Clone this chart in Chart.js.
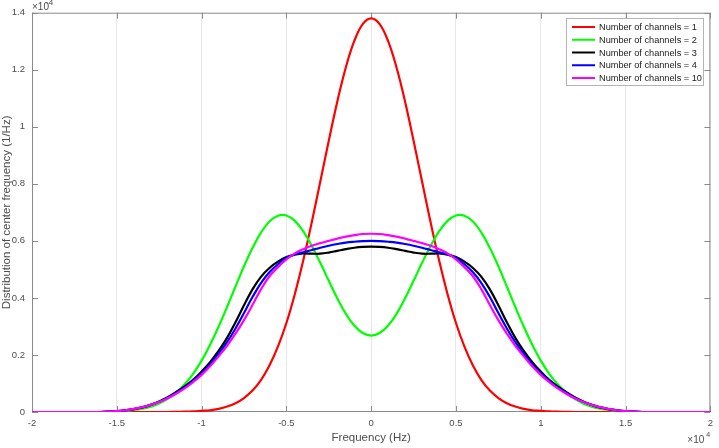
<!DOCTYPE html>
<html>
<head>
<meta charset="utf-8">
<script src="https://cdn.jsdelivr.net/npm/chart.js@4.4.1/dist/chart.umd.min.js"></script>
<style>
  html, body { margin: 0; padding: 0; background: #fff; }
  #wrap { width: 719px; height: 448px; position: relative; }
</style>
</head>
<body>
<div id="wrap"><canvas id="density"></canvas></div>
<script>
// frequency in units of 1e4 Hz, density in units of 1e-4 1/Hz
const freq = [
  -2, -1.95, -1.9, -1.85, -1.8, -1.75, -1.7, -1.65, -1.6, -1.55,
  -1.5, -1.45, -1.4, -1.35, -1.3, -1.25, -1.2, -1.15, -1.1, -1.05,
  -1, -0.95, -0.9, -0.85, -0.8, -0.75, -0.7, -0.65, -0.6, -0.55,
  -0.5, -0.45, -0.4, -0.35, -0.3, -0.25, -0.2, -0.15, -0.1, -0.05,
  0,
  0.05, 0.1, 0.15, 0.2, 0.25, 0.3, 0.35, 0.4, 0.45, 0.5,
  0.55, 0.6, 0.65, 0.7, 0.75, 0.8, 0.85, 0.9, 0.95, 1,
  1.05, 1.1, 1.15, 1.2, 1.25, 1.3, 1.35, 1.4, 1.45, 1.5,
  1.55, 1.6, 1.65, 1.7, 1.75, 1.8, 1.85, 1.9, 1.95, 2
];

const ch1 = [
  0, 0, 0, 0, 0, 0, 0, 0, 0, 0,
  0, 0, 0, 0, 0, 0, 0, 0.0005, 0.001, 0.002,
  0.004, 0.006, 0.011, 0.019, 0.031, 0.049, 0.075, 0.112, 0.163, 0.229,
  0.312, 0.414, 0.533, 0.666, 0.808, 0.951, 1.088, 1.207, 1.30, 1.36,
  1.38,
  1.36, 1.30, 1.207, 1.088, 0.951, 0.808, 0.666, 0.533, 0.414, 0.312,
  0.229, 0.163, 0.112, 0.075, 0.049, 0.031, 0.019, 0.011, 0.006, 0.004,
  0.002, 0.001, 0.0005, 0, 0, 0, 0, 0, 0, 0,
  0, 0, 0, 0, 0, 0, 0, 0, 0, 0
];

const ch2 = [
  0, 0, 0, 0, 0, 0, 0, 0, 0, 0.001,
  0.002, 0.004, 0.007, 0.012, 0.019, 0.030, 0.046, 0.068, 0.097, 0.134,
  0.180, 0.236, 0.299, 0.368, 0.440, 0.511, 0.575, 0.629, 0.668, 0.688,
  0.689, 0.670, 0.633, 0.582, 0.523, 0.460, 0.399, 0.345, 0.303, 0.277,
  0.268,
  0.277, 0.303, 0.345, 0.399, 0.460, 0.523, 0.582, 0.633, 0.670, 0.689,
  0.688, 0.668, 0.629, 0.575, 0.511, 0.440, 0.368, 0.299, 0.236, 0.180,
  0.134, 0.097, 0.068, 0.046, 0.030, 0.019, 0.012, 0.007, 0.004, 0.002,
  0.001, 0, 0, 0, 0, 0, 0, 0, 0, 0
];

const ch3 = [
  0, 0, 0, 0, 0, 0, 0, 0, 0, 0.001,
  0.003, 0.006, 0.010, 0.016, 0.025, 0.037, 0.052, 0.070, 0.090, 0.113,
  0.142, 0.175, 0.214, 0.260, 0.315, 0.374, 0.430, 0.474, 0.505, 0.527,
  0.543, 0.552, 0.556, 0.555, 0.555, 0.559, 0.565, 0.571, 0.576, 0.579,
  0.580,
  0.579, 0.576, 0.571, 0.565, 0.559, 0.555, 0.555, 0.556, 0.552, 0.543,
  0.527, 0.505, 0.474, 0.430, 0.374, 0.315, 0.260, 0.214, 0.175, 0.142,
  0.113, 0.090, 0.070, 0.052, 0.037, 0.025, 0.016, 0.010, 0.006, 0.003,
  0.001, 0, 0, 0, 0, 0, 0, 0, 0, 0
];

const ch4 = [
  0, 0, 0, 0, 0, 0, 0, 0, 0, 0.001,
  0.003, 0.006, 0.010, 0.016, 0.025, 0.036, 0.050, 0.067, 0.086, 0.109,
  0.136, 0.167, 0.204, 0.245, 0.293, 0.347, 0.403, 0.452, 0.490, 0.518,
  0.540, 0.553, 0.560, 0.568, 0.576, 0.583, 0.589, 0.594, 0.597, 0.599,
  0.600,
  0.599, 0.597, 0.594, 0.589, 0.583, 0.576, 0.568, 0.560, 0.553, 0.540,
  0.518, 0.490, 0.452, 0.403, 0.347, 0.293, 0.245, 0.204, 0.167, 0.136,
  0.109, 0.086, 0.067, 0.050, 0.036, 0.025, 0.016, 0.010, 0.006, 0.003,
  0.001, 0, 0, 0, 0, 0, 0, 0, 0, 0
];

const ch10 = [
  0, 0, 0, 0, 0, 0, 0, 0, 0, 0.001,
  0.003, 0.006, 0.011, 0.017, 0.025, 0.035, 0.048, 0.064, 0.083, 0.105,
  0.130, 0.160, 0.195, 0.232, 0.275, 0.322, 0.375, 0.430, 0.476, 0.508,
  0.535, 0.556, 0.571, 0.583, 0.592, 0.600, 0.608, 0.615, 0.620, 0.624,
  0.625,
  0.624, 0.620, 0.615, 0.608, 0.600, 0.592, 0.583, 0.571, 0.556, 0.535,
  0.508, 0.476, 0.430, 0.375, 0.322, 0.275, 0.232, 0.195, 0.160, 0.130,
  0.105, 0.083, 0.064, 0.048, 0.035, 0.025, 0.017, 0.011, 0.006, 0.003,
  0.001, 0, 0, 0, 0, 0, 0, 0, 0, 0
];

const seriesNames = ['Number of channels = 1', 'Number of channels = 2', 'Number of channels = 3',
  'Number of channels = 4', 'Number of channels = 10'];
const seriesValues = [ch1, ch2, ch3, ch4, ch10];
const seriesColors = ['#ff0000', '#00ff00', '#000000', '#0000ff', '#ff00ff'];

const FONT = "'Liberation Sans', Arial, Helvetica, sans-serif";
const axisGrey = '#8a8a8a';
const textGrey = '#4d4d4d';

const fmt = v => String(parseFloat(Number(v).toFixed(2)));

// matlab style box, inward ticks, exponent labels and legend
const matlabAxes = {
  id: 'matlabAxes',
  beforeDatasetsDraw(chart) {
    const ctx = chart.ctx;
    const {left, right, top, bottom} = chart.chartArea;
    const xs = chart.scales.x, ys = chart.scales.y;
    ctx.save();
    ctx.strokeStyle = axisGrey;
    ctx.lineWidth = 1;
    ctx.strokeRect(left + 0.5, top + 0.5, right - left - 1, bottom - top - 1);
    ctx.beginPath();
    xs.ticks.forEach(t => {
      const px = Math.round(xs.getPixelForValue(t.value)) + 0.5;
      ctx.moveTo(px, bottom); ctx.lineTo(px, bottom - 6);
      ctx.moveTo(px, top); ctx.lineTo(px, top + 6);
    });
    ys.ticks.forEach(t => {
      const py = Math.round(ys.getPixelForValue(t.value)) + 0.5;
      ctx.moveTo(left, py); ctx.lineTo(left + 6, py);
      ctx.moveTo(right, py); ctx.lineTo(right - 6, py);
    });
    ctx.stroke();
    ctx.restore();
  },
  afterDraw(chart) {
    const ctx = chart.ctx;
    const {left, right, top, bottom} = chart.chartArea;
    ctx.save();
    // exponent labels
    ctx.fillStyle = textGrey;
    ctx.textBaseline = 'alphabetic';
    ctx.textAlign = 'left';
    ctx.font = '10px ' + FONT;
    ctx.fillText('\u00d710', left, top - 3);
    ctx.font = '8px ' + FONT;
    ctx.fillText('-4', left + 14, top - 8);
    ctx.font = '10px ' + FONT;
    ctx.fillText('\u00d710', right - 23, bottom + 31);
    ctx.font = '7px ' + FONT;
    ctx.fillText('4', right - 4, bottom + 25);

    // legend
    const bx = 566, by = 18, bw = 137, bh = 67;
    ctx.fillStyle = '#ffffff';
    ctx.fillRect(bx, by, bw, bh);
    ctx.strokeStyle = '#b4b4b4';
    ctx.lineWidth = 1;
    ctx.strokeRect(bx + 0.5, by + 0.5, bw, bh);
    ctx.font = '9.2px ' + FONT;
    ctx.textBaseline = 'middle';
    chart.data.datasets.forEach((ds, i) => {
      const y = by + 9 + i * 12.75;
      ctx.strokeStyle = ds.borderColor;
      ctx.lineWidth = 2;
      ctx.beginPath();
      ctx.moveTo(bx + 6, y);
      ctx.lineTo(bx + 29, y);
      ctx.stroke();
      ctx.fillStyle = '#1a1a1a';
      ctx.fillText(ds.label, bx + 33, y + 0.5);
    });
    ctx.restore();
  }
};

new Chart(document.getElementById('density'), {
  type: 'line',
  data: {
    datasets: seriesValues.map((vals, i) => ({
      label: seriesNames[i],
      data: freq.map((f, j) => ({x: f, y: vals[j]})),
      borderColor: seriesColors[i],
      backgroundColor: seriesColors[i],
      borderWidth: 2.2,
      pointRadius: 0,
      tension: 0.4,
      fill: false,
      order: seriesValues.length - i
    }))
  },
  options: {
    responsive: true,
    maintainAspectRatio: false,
    animation: false,
    devicePixelRatio: 1,
    layout: {padding: {top: 10, right: 7, left: 0, bottom: 0}},
    plugins: {
      legend: {display: false},
      tooltip: {enabled: false}
    },
    scales: {
      x: {
        type: 'linear',
        min: -2,
        max: 2,
        afterFit: s => { s.height = 36; },
        ticks: {
          stepSize: 0.5,
          padding: 6,
          color: textGrey,
          font: {family: FONT, size: 9.5},
          maxRotation: 0,
          callback: v => fmt(v)
        },
        grid: {color: '#e8e8e8', drawTicks: false},
        border: {display: false},
        title: {
          display: true,
          text: 'Frequency (Hz)',
          color: textGrey,
          font: {family: FONT, size: 11.5},
          padding: {top: 0, bottom: 3}
        }
      },
      y: {
        type: 'linear',
        min: 0,
        max: 1.4,
        afterFit: s => { s.width = 32; },
        ticks: {
          stepSize: 0.2,
          padding: 7,
          color: textGrey,
          font: {family: FONT, size: 9.5},
          callback: v => fmt(v)
        },
        grid: {display: false, drawTicks: false},
        border: {display: false},
        title: {
          display: true,
          text: 'Distribution of center frequency (1/Hz)',
          color: textGrey,
          font: {family: FONT, size: 11.5},
          padding: {top: 0, bottom: 0}
        }
      }
    }
  },
  plugins: [matlabAxes]
});
</script>
</body>
</html>
